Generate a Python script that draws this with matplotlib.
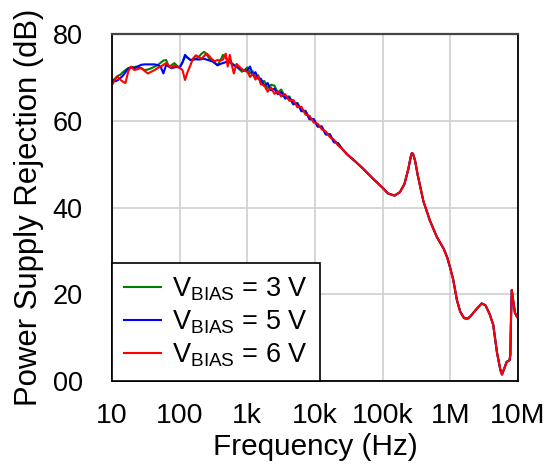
import matplotlib
matplotlib.use("Agg")
import matplotlib.pyplot as plt
import numpy as np

plt.rcParams['font.family'] = ['Liberation Sans', 'DejaVu Sans']
plt.rcParams['mathtext.fontset'] = 'custom'
plt.rcParams['mathtext.rm'] = 'Liberation Sans'
plt.rcParams['mathtext.it'] = 'Liberation Sans'

# Low-frequency (noisy) section, per series
freq_low = [10, 11, 12, 13.2, 14.5, 15.8, 17.4, 19.1, 21.4, 24, 26.9, 30.2, 33.9, 38, 42.7,
            47.9, 52.5, 57.5, 63.1, 69.2, 75.9, 83.2, 91.2, 100, 110, 120, 132, 145, 158, 174,
            191, 209, 229, 251, 275, 302, 331, 363, 398, 437, 479, 513, 550, 589, 631, 692,
            759, 832, 912, 1000, 1096, 1202, 1318, 1445, 1585, 1778, 1995, 2239, 2512, 2818,
            3162, 3631, 4169, 4786, 5495, 6310, 7244, 8318, 9550, 10965, 12589, 14454, 16596,
            19055, 21878, 25119]

psr_3v_low = [69.2, 69.8, 70.4, 70.7, 71.3, 71.8, 72.2, 72.4, 72.5, 72.6, 72.2, 71.8, 71.9, 72.2,
              72.6, 73.0, 73.5, 74.0, 74.1, 72.6, 72.9, 73.4, 72.8, 72.3, 73.5, 74.9, 74.6, 74.1,
              74.2, 74.4, 74.8, 75.5, 76.0, 75.4, 74.4, 74.2, 73.4, 72.9, 74.0, 75.3, 74.6, 74.1,
              73.8, 73.4, 73.0, 72.6, 72.0, 71.4, 71.8, 72.4, 71.0, 71.5, 70.1, 70.6, 68.9, 69.3,
              67.6, 68.4, 68.2, 66.6, 67.3, 65.6, 65.7, 63.9, 64.2, 62.3, 62.4, 60.5, 60.4, 58.9,
              58.6, 57.0, 56.8, 55.3, 54.9, 53.6]

psr_5v_low = [69.5, 69.2, 69.4, 69.9, 70.5, 71.3, 72.2, 72.4, 72.2, 72.6, 73.0, 73.1, 73.1, 73.1,
              73.1, 72.9, 72.5, 71.0, 73.0, 72.6, 72.2, 72.4, 72.5, 72.4, 73.6, 75.3, 74.6, 74.1,
              74.2, 74.3, 74.2, 74.3, 74.4, 74.2, 74.0, 73.8, 73.4, 72.9, 73.2, 73.4, 73.6, 73.8,
              73.6, 73.2, 72.9, 72.6, 72.2, 71.9, 71.6, 71.8, 72.6, 70.7, 71.3, 69.8, 69.8, 68.1,
              68.8, 67.1, 67.5, 66.2, 66.7, 65.2, 65.5, 63.9, 64.1, 62.3, 62.3, 60.4, 60.5, 58.7,
              58.8, 56.9, 57.0, 55.1, 54.9, 53.6]

psr_6v_low = [68.3, 69.5, 70.3, 69.6, 69.1, 68.8, 71.5, 72.6, 71.8, 72.0, 72.3, 71.6, 71.0, 71.4,
              71.8, 72.3, 72.6, 73.0, 73.4, 72.8, 72.3, 72.8, 72.6, 72.3, 71.8, 69.5, 71.5, 73.0,
              74.5, 75.2, 74.8, 74.4, 75.0, 75.6, 75.0, 74.2, 73.8, 74.1, 74.0, 74.2, 75.6, 72.6,
              75.3, 73.0, 71.0, 73.2, 72.6, 72.0, 71.6, 71.4, 70.2, 70.9, 69.6, 70.4, 68.5, 68.3,
              66.8, 67.8, 66.3, 66.9, 65.7, 66.2, 64.7, 64.9, 63.2, 63.3, 61.5, 61.2, 59.7, 59.4,
              58.1, 57.6, 56.3, 55.7, 54.4, 53.6]

# High-frequency section (curves coincide for all bias values)
freq_high = [30000, 40000, 50000, 70000, 100000, 120000, 150000, 180000, 210000, 240000, 260000,
             270000, 280000, 300000, 330000, 400000, 500000, 630000, 800000, 900000, 1000000,
             1100000, 1250000, 1400000, 1600000, 1800000, 2000000, 2200000, 2500000, 2900000,
             3300000, 3800000, 4300000, 4900000, 5500000, 5800000, 6300000, 6800000, 7500000,
             7700000, 7900000, 8100000, 8500000, 9000000, 9500000, 10000000]
psr_high = [52.3, 50.6, 49.2, 46.9, 44.6, 43.3, 42.8, 43.6, 45.5, 49.0, 51.8, 52.6, 52.5, 51.0,
            47.5, 41.5, 37.0, 33.3, 30.5, 28.5, 26.0, 23.5, 18.7, 16.0, 14.5, 14.4, 15.0, 15.8,
            16.8, 17.9, 17.5, 15.5, 13.0, 6.5, 2.5, 1.5, 3.0, 4.4, 4.8, 6.0, 15.0, 21.0, 18.5,
            15.8, 15.0, 14.5]

series_labels = ['V$_{\\mathrm{BIAS}}$ = 3 V', 'V$_{\\mathrm{BIAS}}$ = 5 V', 'V$_{\\mathrm{BIAS}}$ = 6 V']
series_colors = ['#008000', '#0000FF', '#FF0000']
x_ticks = [10, 100, 1e3, 1e4, 1e5, 1e6, 1e7]
x_ticklabels = ['10', '100', '1k', '10k', '100k', '1M', '10M']
y_ticks = [0, 20, 40, 60, 80]
y_ticklabels = ['00', '20', '40', '60', '80']

fig = plt.figure(figsize=(5.52, 4.69), dpi=100)
ax = fig.add_axes([112/552, 1-381/469, (518-112)/552, (381-34.5)/469])

lows = [psr_3v_low, psr_5v_low, psr_6v_low]
for vals, lab, col in zip(lows, series_labels, series_colors):
    f = freq_low + freq_high
    v = vals + psr_high
    ax.plot(f, v, color=col, lw=1.5, label=lab)

ax.set_xscale('log')
ax.set_xlim(10, 1e7)
ax.set_ylim(0, 80)
ax.set_xticks(x_ticks)
ax.set_xticklabels(x_ticklabels)
ax.minorticks_off()
ax.set_yticks(y_ticks)
ax.set_yticklabels(y_ticklabels)
ax.tick_params(axis='both', length=0, colors='black')
ax.tick_params(axis='y', pad=21, labelsize=19.5)
ax.tick_params(axis='x', pad=15.5, labelsize=20.5)
ax.grid(True, color='#d0d0d0', lw=1.2)
ax.set_axisbelow(True)

for s in ['left', 'bottom', 'right']:
    ax.spines[s].set_color('black')
    ax.spines[s].set_linewidth(1.3)
ax.spines['top'].set_color('#444444')
ax.spines['top'].set_linewidth(1.6)

ax.set_xlabel('Frequency (Hz)', fontsize=21.4, labelpad=3)
ax.set_ylabel('Power Supply Rejection (dB)', fontsize=22.4, labelpad=6)

leg = ax.legend(loc='lower left', bbox_to_anchor=(0, 0), borderaxespad=0, fontsize=19.5,
                frameon=True, fancybox=False, edgecolor='black', framealpha=1,
                handlelength=1.35, handletextpad=0.42, labelspacing=0.2, borderpad=0.45)
leg.get_frame().set_linewidth(1.2)

fig.savefig('out.png', dpi=100)
